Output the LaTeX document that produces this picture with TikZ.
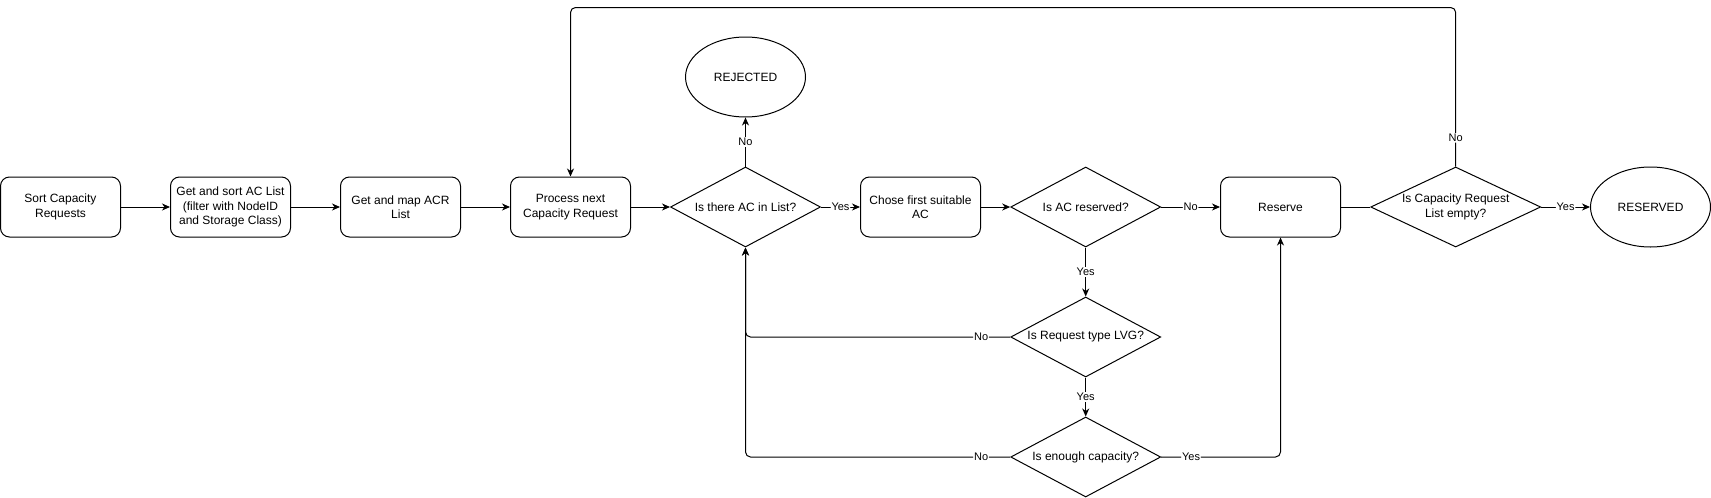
\documentclass[tikz,border=0pt]{standalone}
\usepackage{fontspec}
\setmainfont{Liberation Sans}
\usetikzlibrary{shapes.geometric,arrows.meta}
\begin{document}
\begin{tikzpicture}[x=1pt,y=-1pt,
  every node/.style={font=\fontsize{12}{14.5}\selectfont},
  base/.style={draw=black,line width=1pt},
  box/.style={base,rectangle,rounded corners=9pt,minimum width=120pt,minimum height=60pt,inner sep=0pt,align=center},
  dia/.style={base,diamond,minimum width=150pt,minimum height=80pt,inner sep=0pt},
  diatxt/.style={align=center,inner sep=0pt},
  ell/.style={base,ellipse,minimum width=120pt,minimum height=80pt,inner sep=0pt},
  lbl/.style={font=\fontsize{11}{13}\selectfont,fill=white,inner sep=1pt},
  conn/.style={line width=1pt,rounded corners=5pt},
  arr/.style={conn,-{Stealth[length=8pt,width=7pt,inset=2.5pt]}}
]
\useasboundingbox (0,0) rectangle (1711,498);
% main row
\node[box] (b1) at (60.5,207) {Sort Capacity\\Requests};
\node[box] (b2) at (230.5,207) {Get and sort AC List\\(filter with NodeID\\and Storage Class)};
\node[box] (b3) at (400.5,207) {Get and map ACR\\List};
\node[box] (b4) at (570.5,207) {Process next\\Capacity Request};
\node[dia] (d1) at (745.5,207) {};
\node[diatxt] (d1t) at (d1) {Is there AC in List?};
\node[box] (b5) at (920.5,207) {Chose first suitable\\AC};
\node[dia] (d2) at (1085.7,207) {};
\node[diatxt] (d2t) at (d2) {Is AC reserved?};
\node[box] (rsv) at (1280.5,207) {Reserve};
\node[dia,minimum width=170pt] (d3) at (1455.7,207) {};
\node[diatxt] (d3t) at (d3) {Is Capacity Request\\List empty?};
\node[ell] (res) at (1650.5,207) {RESERVED};
\node[ell] (rej) at (745.5,77) {REJECTED};
\node[dia] (d4) at (1085.7,337) {};
\node[diatxt] (d4t) at (d4) {Is Request type LVG?};
\node[dia] (d5) at (1085.7,457) {};
\node[diatxt] (d5t) at (d5) {Is enough capacity?};
\coordinate (topy) at (0,7.5);
% connectors
\draw[arr] (b1.east) -- (b2.west);
\draw[arr] (b2.east) -- (b3.west);
\draw[arr] (b3.east) -- (b4.west);
\draw[arr] (b4.east) -- (d1.west);
\draw[arr] (d1.east) -- node[lbl]{Yes} (b5.west);
\draw[arr] (d1.north) -- node[lbl]{No} (rej.south);
\draw[arr] (b5.east) -- (d2.west);
\draw[arr] (d2.east) -- node[lbl]{No} (rsv.west);
\draw[conn] (rsv.east) -- (d3.west);
\draw[arr] (d3.east) -- node[lbl]{Yes} (res.west);
\draw[arr] (d3.north) -- node[lbl,pos=0.18]{No} (d3.north |- topy) -- (b4.north |- topy) -- (b4.north);
\draw[arr] (d2.south) -- node[lbl]{Yes} (d4.north);
\draw[arr] (d4.south) -- node[lbl]{Yes} (d5.north);
\draw[arr] (d4.west) -- node[lbl,pos=0.11]{No} (d1.south |- d4.west) -- (d1.south);
\draw[arr] (d5.west) -- node[lbl,pos=0.11]{No} (d1.south |- d5.west) -- (d1.south);
\draw[arr] (d5.east) -- node[lbl,pos=0.25]{Yes} (rsv.south |- d5.east) -- (rsv.south);
\end{tikzpicture}
\end{document}
